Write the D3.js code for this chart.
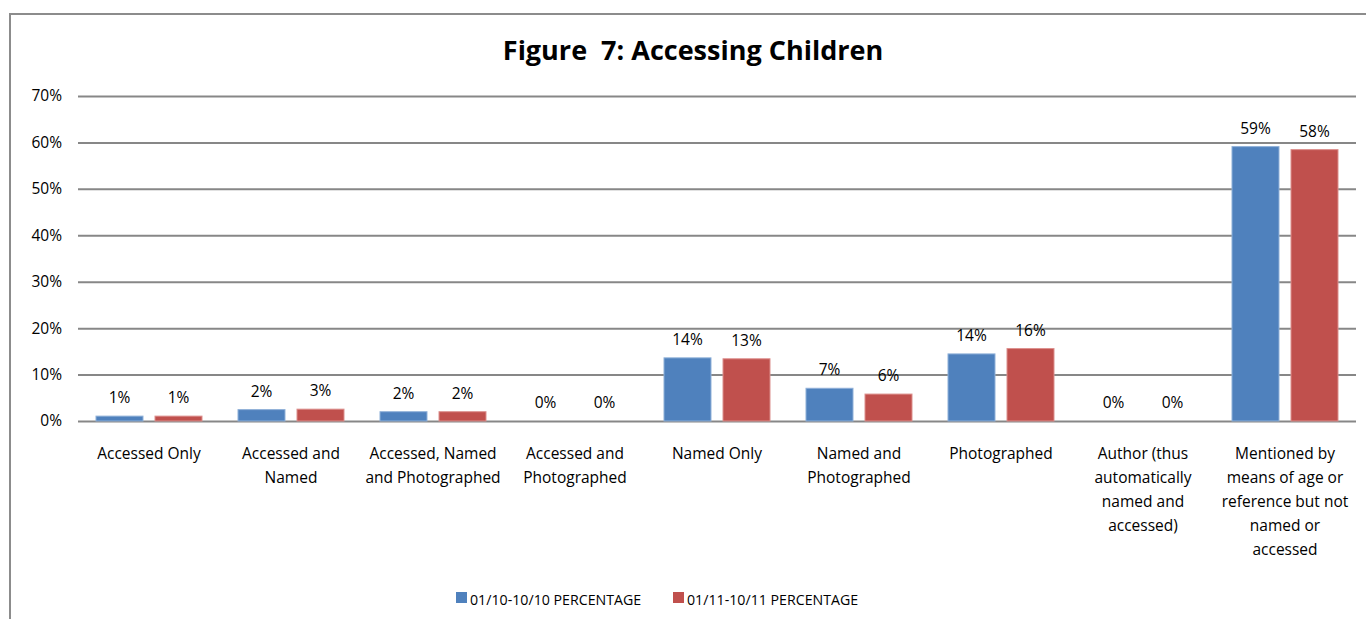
<!DOCTYPE html>
<html>
<head>
<meta charset="utf-8">
<script src="https://cdn.jsdelivr.net/npm/d3@7"></script>
<style>
  html, body { margin: 0; padding: 0; background: #fff; overflow: hidden; }
  svg { display: block; font-family: "Open Sans", Lato, sans-serif; }
</style>
</head>
<body>
<svg id="chart" width="1366" height="619"></svg>
<script>
// Categories (line breaks mark where each axis label wraps)
const categories = [
  "Accessed Only",
  "Accessed and\nNamed",
  "Accessed, Named\nand Photographed",
  "Accessed and\nPhotographed",
  "Named Only",
  "Named and\nPhotographed",
  "Photographed",
  "Author (thus\nautomatically\nnamed and\naccessed)",
  "Mentioned by\nmeans of age or\nreference but not\nnamed or\naccessed"
];
const seriesNames = ["01/10-10/10 PERCENTAGE", "01/11-10/11 PERCENTAGE"];
// Share of articles, in percent
const period2010 = [1.05, 2.45, 2.0, 0, 13.6, 7.05, 14.45, 0, 59.1];
const period2011 = [1.05, 2.55, 2.0, 0, 13.4, 5.8, 15.6, 0, 58.45];
const yTicks = [0, 10, 20, 30, 40, 50, 60, 70];
const colors = ["#4F81BD", "#C0504D"];
const strokes = ["#8fb0d8", "#dc8f8d"];

const labelFont = "'Open Sans', Lato, sans-serif";
const labelSize = 15.5;

const svg = d3.select("#chart");

// Outer frame
svg.append("rect")
  .attr("x", 10).attr("y", 14)
  .attr("width", 1400).attr("height", 700)
  .attr("fill", "none").attr("stroke", "#8c8c8c").attr("stroke-width", 2);

// Title
svg.append("text")
  .attr("x", 693).attr("y", 60)
  .attr("text-anchor", "middle")
  .attr("font-size", 27).attr("font-weight", "bold")
  .attr("fill", "#000")
  .style("white-space", "pre")
  .text("Figure  7: Accessing Children");

const plotLeft = 78, plotRight = 1356, plotTop = 96, plotBottom = 421;

const x = d3.scaleBand().domain(d3.range(categories.length)).range([plotLeft, plotRight]).padding(0);
const xs = d3.scaleBand().domain([0, 1]).range([0, x.bandwidth()])
  .paddingInner(0.2034).paddingOuter(0.305);
const y = d3.scaleLinear().domain([0, 70]).range([plotBottom, plotTop]);

// Gridlines and y tick labels
const yAxis = d3.axisLeft(y)
  .tickValues(yTicks)
  .tickSize(-(plotRight - plotLeft))
  .tickPadding(16)
  .tickFormat(d => d + "%");
const gy = svg.append("g").attr("transform", `translate(${plotLeft},0)`).call(yAxis);
gy.select(".domain").remove();
gy.selectAll(".tick line").attr("stroke", "#878787").attr("stroke-width", 2);
gy.selectAll(".tick text")
  .attr("font-size", labelSize).attr("fill", "#000")
  .attr("font-family", labelFont);

// Bars with value labels
const series = [period2010, period2011];
series.forEach((vals, s) => {
  const g = svg.append("g");
  g.selectAll("rect").data(vals).join("rect")
    .attr("x", (d, i) => x(i) + xs(s))
    .attr("width", xs.bandwidth())
    .attr("y", d => y(d))
    .attr("height", d => y(0) - y(d))
    .attr("fill", colors[s])
    .attr("stroke", d => d > 0 ? strokes[s] : "none")
    .attr("stroke-width", 1);
  g.selectAll("text").data(vals).join("text")
    .attr("x", (d, i) => x(i) + xs(s) + xs.bandwidth() / 2)
    .attr("y", d => y(d) - 13)
    .attr("text-anchor", "middle")
    .attr("font-size", labelSize).attr("fill", "#000")
    .text(d => Math.round(d) + "%");
});

// Category labels
const gx = svg.append("g");
categories.forEach((c, i) => {
  const cx = x(i) + x.bandwidth() / 2;
  const t = gx.append("text")
    .attr("x", cx)
    .attr("y", 459)
    .attr("text-anchor", "middle")
    .attr("font-size", labelSize).attr("fill", "#000");
  c.split("\n").forEach((line, k) => {
    t.append("tspan")
      .attr("x", cx)
      .attr("dy", k === 0 ? 0 : 24)
      .text(line);
  });
});

// Legend
const legendX = [456, 673];
seriesNames.forEach((name, s) => {
  svg.append("rect")
    .attr("x", legendX[s]).attr("y", 592)
    .attr("width", 11).attr("height", 11)
    .attr("fill", colors[s]);
  svg.append("text")
    .attr("x", legendX[s] + 14).attr("y", 605)
    .attr("font-size", 14.2).attr("fill", "#000")
    .text(name);
});
</script>
</body>
</html>
